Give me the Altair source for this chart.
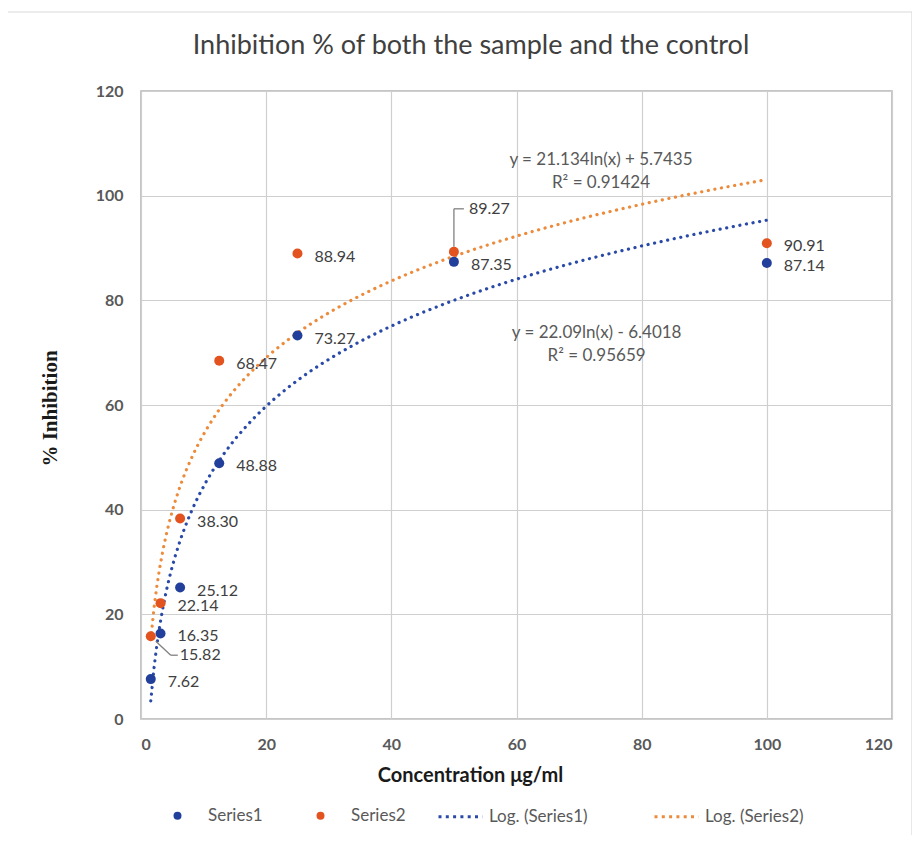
import altair as alt
import pandas as pd

# ---- data ----
conc = [1.5625, 3.125, 6.25, 12.5, 25, 50, 100]
series1 = [7.62, 16.35, 25.12, 48.88, 73.27, 87.35, 87.14]
series2 = [15.82, 22.14, 38.30, 68.47, 88.94, 89.27, 90.91]
series_names = ["Series1", "Series2"]
trend_names = ["Log. (Series1)", "Log. (Series2)"]
x_ticks = [0, 20, 40, 60, 80, 100, 120]
y_ticks = [0, 20, 40, 60, 80, 100, 120]
chart_title = "Inhibition % of both the sample and the control"
eq_series2 = ["y = 21.134ln(x) + 5.7435", "R² = 0.91424"]
eq_series1 = ["y = 22.09ln(x) - 6.4018", "R² = 0.95659"]
callout_below = [("Series2", 1.5625)]
callout_above = [("Series2", 50)]

# ---- styles ----
BLUE = "#22409B"
ORANGE = "#E2531F"
TBLUE = "#2A4AA8"
TORANGE = "#EC8B3C"
TXT = "#404040"
AX = "#595959"
FONT = "Lato"

rows = []
for name, vals in zip(series_names, [series1, series2]):
    for c, v in zip(conc, vals):
        grp = "normal"
        if (name, c) in callout_below:
            grp = "below"
        elif (name, c) in callout_above:
            grp = "above"
        rows.append({"conc": c, "value": v, "key": name, "grp": grp})
df = pd.DataFrame(rows)

xscale = alt.Scale(domain=[0, 120], nice=False, zero=True)
yscale = alt.Scale(domain=[0, 120], nice=False)

x_enc = alt.X(
    "conc:Q",
    scale=xscale,
    axis=alt.Axis(
        values=x_ticks, title="Concentration μg/ml", labelPadding=17,
        titleX=329, titleY=56, titleAlign="center", titleBaseline="middle",
    ),
)
y_enc = alt.Y(
    "value:Q",
    scale=yscale,
    axis=alt.Axis(
        values=y_ticks, title="% Inhibition", labelPadding=18,
        titleX=-91, titleY=317, titleAlign="center", titleBaseline="middle",
        titleAngle=270, titleFont="Liberation Serif", titleFontSize=21,
    ),
)

base = alt.Chart(df)
one = pd.DataFrame({"f": [0]})

frame = alt.Chart(one).mark_rect(
    fill="white", fillOpacity=0, stroke="#d9d9d9", strokeWidth=1.2
).encode(
    x=alt.value(-136), x2=alt.value(771), y=alt.value(-79), y2=alt.value(748)
)

title = alt.Chart(one).mark_text(
    font=FONT, fontSize=27, color=TXT, align="center", baseline="middle"
).encode(x=alt.value(330), y=alt.value(-45), text=alt.value(chart_title))

stroke_scale = alt.Scale(domain=trend_names, range=[TBLUE, TORANGE])
trend_legend = alt.Legend(
    title=None, orient="none", legendX=296, legendY=702, direction="horizontal",
    symbolType="stroke", symbolSize=1936, symbolStrokeWidth=3,
    symbolDash=[3, 4.3], labelOffset=5, columnPadding=60,
)


def trend(name, lname):
    return (
        base.transform_filter(alt.datum.key == name)
        .transform_regression("conc", "value", method="log")
        .transform_calculate(lkey=f"'{lname}'")
        .mark_line(strokeWidth=3.2, strokeDash=[0.1, 6.6], strokeCap="round")
        .encode(
            x=x_enc, y=y_enc,
            stroke=alt.Stroke("lkey:N", scale=stroke_scale, legend=trend_legend),
        )
    )


points = base.mark_point(filled=True, size=100, opacity=1, strokeWidth=0).encode(
    x=x_enc,
    y=y_enc,
    color=alt.Color(
        "key:N",
        scale=alt.Scale(domain=series_names, range=[BLUE, ORANGE]),
        legend=alt.Legend(
            title=None, orient="none", legendX=28, legendY=716, direction="horizontal",
            symbolType="circle", symbolSize=64, symbolStrokeWidth=0,
            labelOffset=22, columnPadding=49,
        ),
    ),
)

lab_kw = dict(font=FONT, fontSize=16, color=TXT, align="left", baseline="middle")
labels = base.transform_filter(alt.datum.grp == "normal").mark_text(
    dx=17, dy=3, **lab_kw
).encode(x=x_enc, y=y_enc, text=alt.Text("value:Q", format=".2f"))
labels_below = base.transform_filter(alt.datum.grp == "below").mark_text(
    dx=29, dy=19, **lab_kw
).encode(x=x_enc, y=y_enc, text=alt.Text("value:Q", format=".2f"))
labels_above = base.transform_filter(alt.datum.grp == "above").mark_text(
    dx=15, dy=-43, **lab_kw
).encode(x=x_enc, y=y_enc, text=alt.Text("value:Q", format=".2f"))

lead = dict(color="#808080", strokeWidth=1.3)
lead_below1 = base.transform_filter(alt.datum.grp == "below").mark_rule(
    xOffset=5, yOffset=5, x2Offset=20, y2Offset=19, **lead
).encode(x=x_enc, y=y_enc, x2="conc:Q", y2="value:Q")
lead_below2 = base.transform_filter(alt.datum.grp == "below").mark_rule(
    xOffset=20, yOffset=19, x2Offset=27, y2Offset=19, **lead
).encode(x=x_enc, y=y_enc, x2="conc:Q", y2="value:Q")
lead_above1 = base.transform_filter(alt.datum.grp == "above").mark_rule(
    yOffset=-5, y2Offset=-43, **lead
).encode(x=x_enc, y=y_enc, y2="value:Q")
lead_above2 = base.transform_filter(alt.datum.grp == "above").mark_rule(
    xOffset=0, yOffset=-43, x2Offset=10, y2Offset=-43, **lead
).encode(x=x_enc, y=y_enc, x2="conc:Q", y2="value:Q")

eq_kw = dict(font=FONT, fontSize=17, color=AX, align="center", baseline="middle", lineHeight=23)
eq2 = alt.Chart(one).mark_text(**eq_kw).encode(
    x=alt.datum(73.5), y=alt.datum(106.8), text=alt.value(eq_series2)
)
eq1 = alt.Chart(one).mark_text(**eq_kw).encode(
    x=alt.datum(72.8), y=alt.datum(73.8), text=alt.value(eq_series1)
)

chart = (
    alt.layer(
        frame,
        title,
        trend("Series1", trend_names[0]),
        trend("Series2", trend_names[1]),
        points,
        labels, labels_below, labels_above,
        lead_below1, lead_below2, lead_above1, lead_above2,
        eq2, eq1,
    )
    .properties(
        width=751,
        height=628,
        autosize=alt.AutoSizeParams(type="none"),
        padding={"left": 133, "top": 83, "right": 20, "bottom": 116},
    )
    .configure_view(stroke="#b3b3b3", strokeWidth=1.5)
    .configure_axis(
        grid=True, gridColor="#cfcfcf", gridWidth=1.2, ticks=False, domain=False,
        labelFont=FONT, labelFontSize=16, labelColor=AX, labelFontWeight="bold",
        titleFont=FONT, titleFontSize=20, titleFontWeight="bold", titleColor="#1a1a1a",
    )
    .configure_legend(
        padding=0, labelFont=FONT, labelFontSize=17, labelColor=AX,
    )
)

chart.save("out.html", embed_options={"renderer": "svg", "actions": False})
